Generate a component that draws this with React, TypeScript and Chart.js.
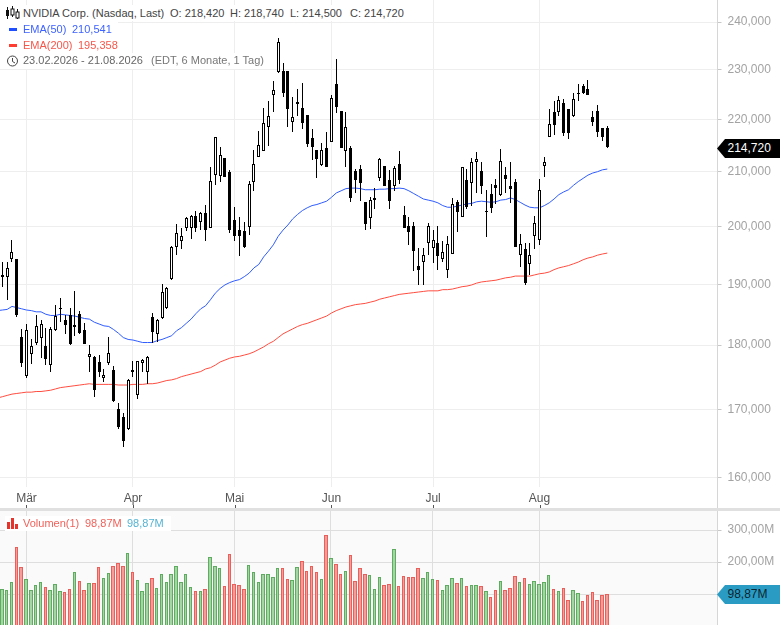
import React, { useEffect, useRef } from "react";
import { Chart, registerables } from "chart.js";

Chart.register(...registerables);

const opens = [191.3,191.3,194.4,194.3,181.3,175.1,178.5,180.4,181.1,179.8,176.8,182.4,185.8,184.1,184.8,182.9,185.1,182.5,178.1,178.1,177.3,174.8,177.1,176.1,170.0,168.8,167.0,176.1,172.2,177.1,175.7,184.6,181.8,184.4,186.0,190.9,196.5,197.4,199.8,199.8,202.0,200.9,202.4,199.8,209.5,209.3,212.6,210.0,201.2,199.4,199.3,199.9,208.2,212.9,214.0,218.6,224.8,229.6,229.8,229.8,219.5,223.1,222.3,220.9,216.5,214.1,211.3,214.5,215.7,227.1,221.7,213.9,214.6,210.2,210.5,204.5,201.5,204.8,208.8,211.1,208.5,207.3,211.5,202.1,200.1,200.1,193.2,193.8,197.2,196.2,197.1,194.4,192.4,195.2,204.5,201.8,208.5,208.0,211.8,210.1,202.6,205.9,207.6,205.7,209.5,207.4,208.1,195.0,196.0,193.5,198.3,197.6,211.2,216.7,221.5,221.5,223.3,222.1,220.8,225.0,226.8,226.0,220.5,221.7,218.4,218.42];
const highs = [193.9,193.9,197.7,194.4,182.6,183.4,180.9,184.8,184.1,182.8,182.9,186.6,187.7,184.9,186.0,188.9,185.5,183.5,180.0,178.3,178.4,176.2,181.3,176.6,170.9,169.4,174.7,177.5,177.5,177.8,178.3,185.2,184.2,190.0,189.5,196.6,200.5,199.7,201.7,202.1,202.9,202.6,203.9,211.0,216.7,214.7,212.6,210.4,203.5,201.8,200.9,208.4,214.2,217.8,222.3,223.7,227.8,236.6,231.4,229.8,224.5,226.1,227.3,220.9,218.2,214.1,215.5,217.7,224.9,232.3,221.7,221.5,214.9,210.5,211.3,204.5,205.4,207.0,212.6,211.1,210.4,211.1,214.0,203.8,201.8,200.9,196.3,196.3,200.6,199.4,200.1,197.5,198.4,205.2,204.8,210.9,210.5,212.6,213.8,211.8,206.6,207.8,208.7,214.3,210.9,211.9,208.7,198.7,197.1,197.1,202.0,208.7,212.9,222.1,223.6,224.7,224.1,222.1,225.2,227.2,227.2,228.0,221.7,222.9,218.4,218.74];
const lows = [189.6,187.4,193.9,184.6,176.5,174.8,177.0,180.0,177.9,176.9,175.7,182.2,183.7,181.8,180.0,181.5,181.7,180.2,175.8,171.8,174.9,174.1,176.9,171.1,167.1,164.3,166.9,174.9,171.5,175.8,173.9,180.4,180.5,184.3,185.9,190.8,195.0,196.0,199.3,197.9,199.1,199.5,197.4,199.8,207.5,208.2,209.1,198.9,197.4,194.8,196.3,198.6,206.5,212.9,214.0,215.0,221.6,229.4,224.4,218.5,217.7,220.7,218.2,214.8,212.2,208.8,211.1,211.0,215.6,221.4,214.6,211.0,204.4,206.1,204.7,199.5,199.6,203.1,208.4,207.3,203.2,206.5,207.8,199.8,196.7,192.2,189.9,189.9,195.1,193.6,192.5,193.9,191.1,195.2,199.0,201.8,203.1,203.8,206.1,206.0,198.1,202.4,204.1,205.5,206.1,204.3,196.5,192.9,189.9,191.6,196.0,196.8,209.1,216.6,217.1,220.8,216.9,216.3,220.6,223.7,225.0,224.8,218.8,216.7,215.8,214.5];
const closes = [191.5,192.8,195.5,184.8,177.1,182.4,179.9,183.0,183.4,177.8,182.6,184.7,186.0,183.2,180.2,183.2,181.9,180.2,178.6,172.9,175.7,175.3,178.7,171.2,167.4,165.2,174.5,175.7,177.4,177.6,178.1,182.1,184.0,188.7,189.3,196.5,198.9,198.3,201.6,202.0,199.8,202.4,199.5,208.4,216.6,213.1,209.1,199.5,198.4,198.4,196.4,207.8,211.5,215.1,219.3,220.7,225.9,235.8,225.2,222.2,220.5,223.5,219.4,215.2,214.8,212.5,214.1,211.0,224.3,222.6,214.6,218.5,205.2,208.5,208.0,200.4,204.8,205.2,212.5,207.3,204.6,210.7,208.5,199.8,199.0,195.7,192.5,195.1,200.1,197.7,194.8,195.6,196.9,204.1,202.7,210.9,203.5,211.9,212.4,207.3,202.9,203.3,207.1,212.1,208.6,206.8,196.5,196.9,190.2,195.0,200.6,206.7,211.9,219.1,218.9,223.9,217.5,217.4,224.1,225.3,225.2,224.8,219.6,217.6,216.7,214.72];
const ema50 = [185.7,185.8,186.3,186.1,185.9,185.7,185.6,185.4,185.4,185.0,184.8,184.8,185.0,184.9,184.8,184.7,184.5,184.3,184.2,183.7,183.4,183.1,183.0,182.5,181.9,181.2,180.9,180.8,180.6,180.4,180.4,180.4,180.7,180.9,181.2,181.5,182.3,182.8,183.5,184.2,185.1,185.9,186.4,187.4,188.5,189.3,189.9,190.3,190.6,190.8,191.3,191.9,192.8,193.4,194.7,195.7,196.8,198.3,199.4,200.3,201.4,202.2,202.9,203.4,203.8,204.0,204.3,204.6,205.3,206.1,206.5,206.9,207.0,207.0,206.9,206.7,206.7,206.7,206.8,206.8,206.9,206.9,207.0,206.9,206.5,206.0,205.5,205.0,204.8,204.6,204.3,203.8,203.5,203.5,203.7,203.9,204.1,204.2,204.5,204.6,204.5,204.4,204.5,204.8,204.9,205.2,204.9,204.4,203.9,203.5,203.4,203.4,203.8,204.3,205.0,205.8,206.3,206.7,207.5,208.2,208.8,209.4,209.8,210.05,210.4,210.541];
const ema200 = [171.9,172.1,172.3,172.4,172.5,172.6,172.6,172.7,172.7,172.8,172.9,173.1,173.3,173.4,173.5,173.6,173.7,173.8,173.9,173.8,173.8,173.8,173.8,173.8,173.7,173.7,173.7,173.8,173.8,173.8,173.9,173.9,174.0,174.2,174.4,174.5,174.7,175.0,175.2,175.4,175.6,175.8,176.2,176.4,176.8,177.3,177.6,177.9,178.1,178.2,178.4,178.6,178.9,179.3,179.7,180.2,180.6,181.2,181.8,182.2,182.6,183.0,183.3,183.5,183.8,184.1,184.4,184.7,185.2,185.6,185.9,186.2,186.4,186.6,186.7,186.8,187.0,187.2,187.5,187.7,187.9,188.1,188.3,188.4,188.5,188.6,188.7,188.8,188.9,188.9,188.9,189.1,189.1,189.2,189.4,189.6,189.7,189.9,190.2,190.4,190.5,190.6,190.7,190.9,191.1,191.2,191.4,191.4,191.4,191.4,191.6,191.8,191.9,192.1,192.5,192.8,193.0,193.2,193.5,193.8,194.2,194.5,194.7,195.0,195.2,195.358];
const ema50Before = 185.6;
const ema200Before = 171.7;
const volumes = [114.6,111.5,136.5,245.8,183.3,145.8,111.5,127.1,136.5,120.8,111.5,130.2,108.3,105.2,114.6,167.7,139.6,111.5,133.3,133.3,183.3,149.0,164.6,186.5,195.8,186.5,227.0,167.7,142.7,108.3,133.3,149.0,117.7,161.5,136.5,161.5,186.5,136.5,161.5,120.8,108.3,108.3,114.6,214.6,186.5,180.2,124.0,224.0,130.2,127.1,114.6,189.6,167.7,136.5,161.5,161.5,152.0,180.2,180.2,145.8,142.7,183.3,202.0,170.8,186.5,167.7,145.8,285.4,211.5,192.7,161.5,170.8,220.8,139.6,180.2,161.5,158.3,114.6,152.0,127.1,130.2,239.6,124.0,155.2,152.0,152.0,180.2,149.0,167.7,145.8,142.7,111.5,127.1,149.0,133.3,149.0,124.0,127.1,127.1,124.0,108.3,89.6,111.5,139.6,111.5,117.7,155.2,136.5,149.0,130.2,139.6,130.2,136.5,158.3,114.6,108.3,117.7,80.2,111.5,102.0,77.1,95.8,105.2,80.2,95.8,98.87];

const monthIndex = [5, 27, 48, 68, 89, 111];
const monthLabels = ["Mär", "Apr", "Mai", "Jun", "Jul", "Aug"];
const priceTicks = [240, 230, 220, 210, 200, 190, 180, 170, 160];
const volumeTicks = [300, 200, 100];

const indexes = opens.map((_, i) => i);
const isUp = (i: number) => closes[i] >= opens[i];

const FONT = "'Liberation Sans', Arial, sans-serif";
const AXIS_W = 62.5;

const noPadding = (s: any) => {
  s.paddingTop = 0;
  s.paddingBottom = 0;
  s.paddingLeft = 0;
  s.paddingRight = 0;
};

const snapBars = {
  id: "snapBars",
  beforeDatasetsDraw(chart: any) {
    chart.data.datasets.forEach((ds: any, d: number) => {
      if (!ds.snap) return;
      chart.getDatasetMeta(d).data.forEach((el: any) => {
        if (ds.snap === "edges") {
          const half = ds.barThickness / 2;
          const left = Math.round(el.x - half);
          const right = Math.round(el.x + half);
          el.x = (left + right) / 2;
          el.width = right - left;
        } else {
          el.x = Math.floor(el.x) + 0.5;
        }
        const top = Math.round(Math.min(el.y, el.base));
        let bottom = Math.round(Math.max(el.y, el.base));
        if (bottom <= top) bottom = top + 1;
        el.y = top;
        el.base = bottom;
      });
    });
  },
};

const priceFrame = {
  id: "priceFrame",
  afterDraw(chart: any) {
    const { ctx, scales } = chart;
    ctx.save();
    ctx.strokeStyle = "#d6d6d6";
    ctx.lineWidth = 1;
    ctx.beginPath();
    ctx.moveTo(717.5, 0);
    ctx.lineTo(717.5, 508);
    ctx.stroke();
    ctx.strokeStyle = "#555";
    monthIndex.forEach((v) => {
      const x = Math.round(scales.x.getPixelForValue(v)) + 0.5;
      ctx.beginPath();
      ctx.moveTo(x, 505);
      ctx.lineTo(x, 508);
      ctx.stroke();
    });
    ctx.restore();
  },
};

const volumeFrame = {
  id: "volumeFrame",
  beforeDraw(chart: any) {
    const { ctx, chartArea } = chart;
    ctx.save();
    ctx.fillStyle = "#fafafa";
    ctx.fillRect(0, 0, chartArea.right, chartArea.bottom);
    ctx.restore();
  },
  afterDraw(chart: any) {
    const { ctx } = chart;
    ctx.save();
    ctx.strokeStyle = "#d6d6d6";
    ctx.beginPath();
    ctx.moveTo(717.5, 0);
    ctx.lineTo(717.5, 114);
    ctx.stroke();
    ctx.restore();
  },
};

function Row({ top, width, children }: any) {
  return (
    <div style={{ position: "absolute", left: 0, top, width, height: 16, background: "#fff" }}>{children}</div>
  );
}

function Txt({ x, y, color, children }: any) {
  return (
    <span style={{ position: "absolute", left: x, top: y, color, font: `11px/16px ${FONT}`, whiteSpace: "pre" }}>{children}</span>
  );
}

function Tag({ top, bg, color, text }: any) {
  return (
    <div
      style={{
        position: "absolute",
        left: 717,
        top,
        width: 63,
        height: 19,
        background: bg,
        clipPath: "polygon(0 50%, 8px 0, 100% 0, 100% 100%, 8px 100%)",
        color,
        font: `12px/19px ${FONT}`,
      }}
    >
      <span style={{ position: "absolute", left: 10.5, top: 0 }}>{text}</span>
    </div>
  );
}

export default function App() {
  const priceRef = useRef<HTMLCanvasElement>(null);
  const volumeRef = useRef<HTMLCanvasElement>(null);

  useEffect(() => {
    const price = new Chart(priceRef.current as HTMLCanvasElement, {
      type: "bar",
      data: {
        datasets: [
          {
            type: "line",
            data: [{ x: -1, y: ema50Before }, ...indexes.map((i) => ({ x: i, y: ema50[i] }))],
            borderColor: "#2f5cff",
            borderWidth: 1,
            pointRadius: 0,
            tension: 0,
            order: 4,
          },
          {
            type: "line",
            data: [{ x: -1, y: ema200Before }, ...indexes.map((i) => ({ x: i, y: ema200[i] }))],
            borderColor: "#ff4d40",
            borderWidth: 1,
            pointRadius: 0,
            tension: 0,
            order: 3,
          },
          {
            type: "bar",
            snap: true,
            data: indexes.map((i) => ({ x: i, y: [lows[i], highs[i]] })),
            backgroundColor: "#000",
            borderWidth: 0,
            barThickness: 1,
            grouped: false,
            inflateAmount: 0,
            order: 2,
          },
          {
            type: "bar",
            snap: true,
            data: indexes.map((i) => ({ x: i, y: [opens[i], closes[i]] })),
            backgroundColor: indexes.map((i) => (isUp(i) ? "#fff" : "#000")),
            borderColor: "#000",
            borderWidth: 1,
            borderSkipped: false,
            barThickness: 3,
            grouped: false,
            inflateAmount: 0,
            order: 1,
          },
        ] as any,
      },
      options: {
        responsive: false,
        animation: false,
        devicePixelRatio: 1,
        layout: { padding: 0, autoPadding: false },
        plugins: { legend: { display: false }, tooltip: { enabled: false } },
        events: [],
        scales: {
          x: {
            type: "linear",
            offset: false,
            min: -0.475,
            max: 147.77,
            afterFit: (s: any) => {
              s.height = 21;
              noPadding(s);
            },
            afterBuildTicks: (s: any) => {
              s.ticks = monthIndex.map((value) => ({ value }));
            },
            grid: { color: "#eeeeee", drawTicks: false, offset: false },
            border: { display: false },
            ticks: {
              autoSkip: false,
              maxRotation: 0,
              padding: 4,
              color: "#555",
              font: { family: FONT, size: 12 },
              callback: (v: any) => monthLabels[monthIndex.indexOf(Number(v))] ?? "",
            },
          },
          y: {
            type: "logarithmic",
            position: "right",
            bounds: "data",
            min: 158.62,
            max: 244.75,
            afterFit: (s: any) => {
              s.width = AXIS_W;
              noPadding(s);
            },
            afterBuildTicks: (s: any) => {
              s.ticks = priceTicks.map((value) => ({ value }));
            },
            grid: { color: "#eeeeee", tickColor: "#c8c8c8", tickLength: 4 },
            border: { display: false },
            ticks: {
              autoSkip: false,
              padding: 6,
              color: "#a3a3a3",
              font: { family: FONT, size: 12 },
              callback: (v: any) => Number(v).toFixed(3).replace(".", ","),
            },
          },
        } as any,
      },
      plugins: [snapBars, priceFrame],
    } as any);

    const volume = new Chart(volumeRef.current as HTMLCanvasElement, {
      type: "bar",
      data: {
        datasets: [
          {
            snap: "edges",
            data: indexes.map((i) => ({ x: i, y: volumes[i] })),
            backgroundColor: indexes.map((i) => (isUp(i) ? "#a3d6a3" : "#f79c96")),
            borderColor: indexes.map((i) => (isUp(i) ? "#5fab62" : "#e8605c")),
            borderWidth: 1,
            borderSkipped: false,
            barThickness: 3.5,
            inflateAmount: 0,
          },
        ] as any,
      },
      options: {
        responsive: false,
        animation: false,
        devicePixelRatio: 1,
        layout: { padding: 0, autoPadding: false },
        plugins: { legend: { display: false }, tooltip: { enabled: false } },
        events: [],
        scales: {
          x: {
            type: "linear",
            offset: false,
            min: -0.375,
            max: 147.87,
            afterFit: (s: any) => {
              s.height = 0;
              noPadding(s);
            },
            afterBuildTicks: (s: any) => {
              s.ticks = monthIndex.map((value) => ({ value }));
            },
            grid: { color: "#dedede", drawTicks: false, offset: false },
            border: { display: false },
            ticks: { display: false, autoSkip: false },
          },
          y: {
            type: "linear",
            position: "right",
            min: 3.125,
            max: 359.4,
            afterFit: (s: any) => {
              s.width = AXIS_W;
              noPadding(s);
            },
            afterBuildTicks: (s: any) => {
              s.ticks = volumeTicks.map((value) => ({ value }));
            },
            grid: { color: "#dedede", tickColor: "#c8c8c8", tickLength: 4 },
            border: { display: false },
            ticks: {
              autoSkip: false,
              padding: 6,
              color: "#a3a3a3",
              font: { family: FONT, size: 12 },
              callback: (v: any) => (Number(v) === 100 ? "" : `${Number(v).toFixed(2).replace(".", ",")}M`),
            },
          },
        } as any,
      },
      plugins: [snapBars, volumeFrame],
    } as any);

    return () => {
      price.destroy();
      volume.destroy();
    };
  }, []);

  return (
    <div style={{ position: "absolute", left: 0, top: 0, width: 780, height: 625, overflow: "hidden", background: "#fff" }}>
      <canvas ref={priceRef} width={780} height={508} style={{ position: "absolute", left: 0, top: 0, display: "block" }} />
      <div style={{ position: "absolute", left: 0, top: 508, width: 780, height: 3, background: "#e0e0e0" }} />
      <canvas ref={volumeRef} width={780} height={114} style={{ position: "absolute", left: 0, top: 511, display: "block" }} />

      <Row top={5} width={405}>
        <svg width="16" height="16" style={{ position: "absolute", left: 5, top: 0 }}>
          <path d="M2.5 2V14M7.5 1V12M12.5 4V14" stroke="#111" strokeWidth="1" />
          <rect x="1" y="5" width="3" height="6" fill="#111" />
          <rect x="6" y="4" width="3" height="6" fill="#fff" stroke="#111" />
          <rect x="11" y="7" width="3" height="6" fill="#fff" stroke="#111" />
        </svg>
        <Txt x={23} y={0} color="#444">NVIDIA Corp. (Nasdaq, Last)</Txt>
        <Txt x={170} y={0} color="#444">O: 218,420</Txt>
        <Txt x={230} y={0} color="#444">H: 218,740</Txt>
        <Txt x={290} y={0} color="#444">L: 214,500</Txt>
        <Txt x={350} y={0} color="#444">C: 214,720</Txt>
      </Row>
      <Row top={21} width={118}>
        <div style={{ position: "absolute", left: 9, top: 7, width: 8, height: 3, background: "#1f4fff" }} />
        <Txt x={23} y={0} color="#3f63ff">EMA(50)</Txt>
        <Txt x={72} y={0} color="#3f63ff">210,541</Txt>
      </Row>
      <Row top={37} width={122}>
        <div style={{ position: "absolute", left: 9, top: 7, width: 8, height: 3, background: "#ff3d30" }} />
        <Txt x={23} y={0} color="#f5574b">EMA(200)</Txt>
        <Txt x={78} y={0} color="#f5574b">195,358</Txt>
      </Row>
      <Row top={53} width={268}>
        <svg width="14" height="14" style={{ position: "absolute", left: 6, top: 1 }}>
          <circle cx="6.5" cy="7" r="5" fill="none" stroke="#444" strokeWidth="1" />
          <path d="M6.5 4V7.5L9 9" fill="none" stroke="#444" strokeWidth="1" />
        </svg>
        <Txt x={23} y={-1} color="#666">23.02.2026 - 21.08.2026</Txt>
        <Txt x={151} y={-1} color="#777">(EDT, 6 Monate, 1 Tag)</Txt>
      </Row>

      <div style={{ position: "absolute", left: 5, top: 516, width: 166, height: 15, background: "#fff" }}>
        <svg width="14" height="14" style={{ position: "absolute", left: 2, top: 0 }}>
          <rect x="0" y="6" width="3" height="7" fill="#e5342c" />
          <rect x="4" y="2" width="3" height="11" fill="#e5342c" />
          <rect x="8" y="8" width="3" height="5" fill="#e5342c" />
        </svg>
        <Txt x={18} y={-1} color="#f0625a">Volumen(1)</Txt>
        <Txt x={80} y={-1} color="#f0625a">98,87M</Txt>
        <Txt x={122} y={-1} color="#55b3d3">98,87M</Txt>
      </div>

      <Tag top={139} bg="#000" color="#fff" text="214,720" />
      <Tag top={585} bg="#2a9cc4" color="#0d2530" text="98,87M" />
    </div>
  );
}
